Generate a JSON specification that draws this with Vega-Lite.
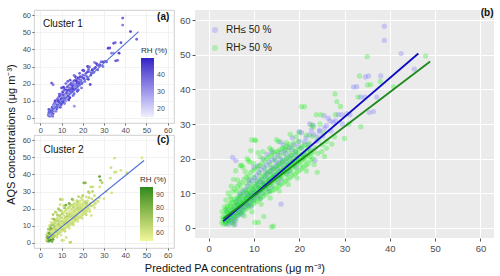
{
"$schema": "https://vega.github.io/schema/vega-lite/v6.json",
"background": "white",
"padding": {"left": 5, "right": 7, "top": 7, "bottom": 2},
"config": {"font": "Liberation Sans", "view": {"stroke": null}, "axis": {"labelOverlap": false, "labelBound": false, "labelFlush": false}},
"title": {"text": "Predicted PA concentrations (μg m⁻³)", "orient": "bottom", "anchor": "middle", "fontSize": 11, "fontWeight": "normal", "color": "#111", "offset": 4, "dx": -15},
"resolve": {"scale": {"color": "independent", "x": "independent", "y": "independent"}, "legend": {"color": "independent"}},
"datasets": {
"pts": [
{"pa":3.8,"aqs":1.2,"rh":32,"cl":1},{"pa":4.2,"aqs":2.5,"rh":28,"cl":1},{"pa":4.5,"aqs":1.0,"rh":40,"cl":1},{"pa":4.6,"aqs":3.8,"rh":35,"cl":1},{"pa":4.9,"aqs":2.2,"rh":44,"cl":1},{"pa":5.1,"aqs":5.0,"rh":30,"cl":1},{"pa":5.3,"aqs":1.5,"rh":22,"cl":1},{"pa":5.5,"aqs":3.3,"rh":38,"cl":1},{"pa":5.6,"aqs":6.2,"rh":41,"cl":1},{"pa":5.8,"aqs":4.4,"rh":26,"cl":1},
{"pa":6.0,"aqs":2.6,"rh":45,"cl":1},{"pa":6.1,"aqs":7.5,"rh":33,"cl":1},{"pa":6.3,"aqs":5.2,"rh":47,"cl":1},{"pa":6.5,"aqs":3.5,"rh":20,"cl":1},{"pa":6.6,"aqs":8.4,"rh":36,"cl":1},{"pa":6.8,"aqs":6.0,"rh":29,"cl":1},{"pa":7.0,"aqs":4.3,"rh":42,"cl":1},{"pa":7.1,"aqs":9.2,"rh":38,"cl":1},{"pa":7.3,"aqs":7.0,"rh":24,"cl":1},{"pa":7.5,"aqs":5.0,"rh":46,"cl":1},
{"pa":7.6,"aqs":10.4,"rh":31,"cl":1},{"pa":7.8,"aqs":7.8,"rh":43,"cl":1},{"pa":8.0,"aqs":5.8,"rh":35,"cl":1},{"pa":8.1,"aqs":11.0,"rh":40,"cl":1},{"pa":8.3,"aqs":8.6,"rh":27,"cl":1},{"pa":8.5,"aqs":6.6,"rh":48,"cl":1},{"pa":8.6,"aqs":12.0,"rh":34,"cl":1},{"pa":8.8,"aqs":9.4,"rh":39,"cl":1},{"pa":9.0,"aqs":7.2,"rh":30,"cl":1},{"pa":9.1,"aqs":12.9,"rh":44,"cl":1},
{"pa":9.3,"aqs":10.2,"rh":37,"cl":1},{"pa":9.5,"aqs":8.0,"rh":23,"cl":1},{"pa":9.6,"aqs":13.6,"rh":41,"cl":1},{"pa":9.8,"aqs":11.0,"rh":46,"cl":1},{"pa":10.0,"aqs":8.7,"rh":33,"cl":1},{"pa":10.1,"aqs":14.4,"rh":28,"cl":1},{"pa":10.3,"aqs":11.8,"rh":42,"cl":1},{"pa":10.5,"aqs":9.5,"rh":38,"cl":1},{"pa":10.6,"aqs":15.2,"rh":45,"cl":1},{"pa":10.8,"aqs":12.5,"rh":31,"cl":1},
{"pa":11.0,"aqs":10.2,"rh":40,"cl":1},{"pa":11.1,"aqs":16.0,"rh":36,"cl":1},{"pa":11.3,"aqs":13.3,"rh":47,"cl":1},{"pa":11.5,"aqs":10.9,"rh":26,"cl":1},{"pa":11.6,"aqs":16.8,"rh":43,"cl":1},{"pa":11.8,"aqs":14.0,"rh":34,"cl":1},{"pa":12.0,"aqs":11.6,"rh":39,"cl":1},{"pa":12.2,"aqs":17.5,"rh":30,"cl":1},{"pa":12.4,"aqs":14.8,"rh":44,"cl":1},{"pa":12.6,"aqs":12.3,"rh":37,"cl":1},
{"pa":12.8,"aqs":18.2,"rh":41,"cl":1},{"pa":13.0,"aqs":15.6,"rh":29,"cl":1},{"pa":13.2,"aqs":13.0,"rh":46,"cl":1},{"pa":13.4,"aqs":19.0,"rh":35,"cl":1},{"pa":13.6,"aqs":16.3,"rh":42,"cl":1},{"pa":13.8,"aqs":13.8,"rh":24,"cl":1},{"pa":14.0,"aqs":19.6,"rh":38,"cl":1},{"pa":14.2,"aqs":17.0,"rh":45,"cl":1},{"pa":14.4,"aqs":14.6,"rh":32,"cl":1},{"pa":14.6,"aqs":20.2,"rh":40,"cl":1},
{"pa":14.8,"aqs":17.8,"rh":36,"cl":1},{"pa":15.0,"aqs":15.4,"rh":43,"cl":1},{"pa":15.3,"aqs":21.0,"rh":31,"cl":1},{"pa":15.5,"aqs":18.6,"rh":47,"cl":1},{"pa":15.8,"aqs":16.2,"rh":38,"cl":1},{"pa":16.0,"aqs":21.8,"rh":42,"cl":1},{"pa":16.3,"aqs":19.4,"rh":27,"cl":1},{"pa":16.6,"aqs":17.0,"rh":44,"cl":1},{"pa":16.9,"aqs":22.5,"rh":37,"cl":1},{"pa":17.2,"aqs":20.2,"rh":40,"cl":1},
{"pa":17.5,"aqs":18.0,"rh":33,"cl":1},{"pa":17.8,"aqs":23.3,"rh":46,"cl":1},{"pa":18.1,"aqs":21.0,"rh":39,"cl":1},{"pa":18.5,"aqs":19.0,"rh":30,"cl":1},{"pa":18.8,"aqs":24.0,"rh":43,"cl":1},{"pa":19.2,"aqs":22.0,"rh":35,"cl":1},{"pa":19.6,"aqs":20.0,"rh":41,"cl":1},{"pa":20.0,"aqs":25.0,"rh":38,"cl":1},{"pa":20.5,"aqs":23.0,"rh":45,"cl":1},{"pa":21.0,"aqs":21.2,"rh":34,"cl":1},
{"pa":21.5,"aqs":26.0,"rh":40,"cl":1},{"pa":22.0,"aqs":24.0,"rh":37,"cl":1},{"pa":22.6,"aqs":22.5,"rh":44,"cl":1},{"pa":23.2,"aqs":27.0,"rh":32,"cl":1},{"pa":23.8,"aqs":25.0,"rh":42,"cl":1},{"pa":24.5,"aqs":28.2,"rh":39,"cl":1},{"pa":25.2,"aqs":26.5,"rh":36,"cl":1},{"pa":26.0,"aqs":29.5,"rh":43,"cl":1},{"pa":27.0,"aqs":28.0,"rh":38,"cl":1},{"pa":28.0,"aqs":31.0,"rh":41,"cl":1},
{"pa":5.0,"aqs":3.0,"rh":39,"cl":1},{"pa":6.2,"aqs":4.0,"rh":34,"cl":1},{"pa":7.2,"aqs":5.8,"rh":41,"cl":1},{"pa":8.2,"aqs":7.0,"rh":36,"cl":1},{"pa":9.2,"aqs":8.8,"rh":44,"cl":1},{"pa":10.2,"aqs":10.0,"rh":30,"cl":1},{"pa":11.2,"aqs":11.5,"rh":38,"cl":1},{"pa":12.2,"aqs":12.8,"rh":42,"cl":1},{"pa":13.2,"aqs":14.2,"rh":35,"cl":1},{"pa":14.2,"aqs":15.5,"rh":40,"cl":1},
{"pa":15.2,"aqs":17.0,"rh":45,"cl":1},{"pa":16.2,"aqs":18.2,"rh":33,"cl":1},{"pa":17.2,"aqs":19.0,"rh":39,"cl":1},{"pa":18.2,"aqs":20.0,"rh":43,"cl":1},{"pa":19.2,"aqs":21.0,"rh":37,"cl":1},{"pa":6.8,"aqs":4.8,"rh":26,"cl":1},{"pa":8.8,"aqs":6.5,"rh":31,"cl":1},{"pa":10.8,"aqs":9.0,"rh":47,"cl":1},{"pa":12.8,"aqs":11.2,"rh":29,"cl":1},{"pa":4.0,"aqs":3.2,"rh":42,"cl":1},
{"pa":5.6,"aqs":2.0,"rh":37,"cl":1},{"pa":7.4,"aqs":3.8,"rh":33,"cl":1},{"pa":9.4,"aqs":6.2,"rh":40,"cl":1},{"pa":11.4,"aqs":8.4,"rh":35,"cl":1},{"pa":13.4,"aqs":10.5,"rh":44,"cl":1},{"pa":15.4,"aqs":13.0,"rh":38,"cl":1},{"pa":17.4,"aqs":15.5,"rh":42,"cl":1},{"pa":19.4,"aqs":17.5,"rh":36,"cl":1},{"pa":14.0,"aqs":22.0,"rh":41,"cl":1},{"pa":16.5,"aqs":24.0,"rh":45,"cl":1},
{"pa":18.5,"aqs":26.0,"rh":39,"cl":1},{"pa":20.5,"aqs":27.5,"rh":43,"cl":1},{"pa":12.0,"aqs":20.0,"rh":37,"cl":1},{"pa":10.0,"aqs":17.5,"rh":42,"cl":1},
{"pa":4.4,"aqs":3.0,"rh":36,"cl":1},{"pa":5.2,"aqs":4.1,"rh":43,"cl":1},{"pa":6.4,"aqs":6.8,"rh":31,"cl":1},{"pa":7.6,"aqs":6.2,"rh":39,"cl":1},{"pa":8.4,"aqs":9.8,"rh":45,"cl":1},{"pa":9.7,"aqs":9.4,"rh":34,"cl":1},{"pa":10.6,"aqs":13.6,"rh":40,"cl":1},{"pa":11.9,"aqs":12.9,"rh":28,"cl":1},{"pa":12.6,"aqs":16.1,"rh":44,"cl":1},{"pa":13.8,"aqs":17.4,"rh":37,"cl":1},
{"pa":14.9,"aqs":19.1,"rh":42,"cl":1},{"pa":15.9,"aqs":19.9,"rh":35,"cl":1},{"pa":17.0,"aqs":21.5,"rh":47,"cl":1},{"pa":18.3,"aqs":22.6,"rh":38,"cl":1},{"pa":19.8,"aqs":23.6,"rh":41,"cl":1},{"pa":21.2,"aqs":24.8,"rh":36,"cl":1},{"pa":22.3,"aqs":26.9,"rh":44,"cl":1},{"pa":24.0,"aqs":26.3,"rh":39,"cl":1},{"pa":25.6,"aqs":28.9,"rh":42,"cl":1},{"pa":26.8,"aqs":30.9,"rh":37,"cl":1},
{"pa":6.9,"aqs":9.9,"rh":43,"cl":1},{"pa":8.9,"aqs":13.9,"rh":38,"cl":1},{"pa":10.9,"aqs":17.9,"rh":45,"cl":1},{"pa":12.9,"aqs":21.3,"rh":40,"cl":1},{"pa":15.9,"aqs":24.8,"rh":36,"cl":1},{"pa":9.9,"aqs":7.8,"rh":42,"cl":1},{"pa":11.9,"aqs":9.9,"rh":33,"cl":1},{"pa":13.9,"aqs":11.8,"rh":46,"cl":1},{"pa":15.9,"aqs":14.1,"rh":39,"cl":1},{"pa":17.9,"aqs":16.3,"rh":41,"cl":1},
{"pa":38.8,"aqs":58.3,"rh":40,"cl":1},{"pa":38.8,"aqs":54.2,"rh":35,"cl":1},{"pa":42.5,"aqs":50.4,"rh":44,"cl":1},{"pa":45.4,"aqs":45.9,"rh":38,"cl":1},{"pa":34.6,"aqs":43.6,"rh":42,"cl":1},{"pa":32.0,"aqs":40.7,"rh":46,"cl":1},{"pa":33.6,"aqs":37.8,"rh":36,"cl":1},{"pa":35.5,"aqs":33.3,"rh":41,"cl":1},{"pa":30.5,"aqs":33.0,"rh":38,"cl":1},{"pa":25.5,"aqs":32.4,"rh":33,"cl":1},
{"pa":22.3,"aqs":30.0,"rh":45,"cl":1},{"pa":5.3,"aqs":20.3,"rh":40,"cl":1},{"pa":6.0,"aqs":19.4,"rh":36,"cl":1},{"pa":16.0,"aqs":6.8,"rh":30,"cl":1},{"pa":20.0,"aqs":27.8,"rh":42,"cl":1},{"pa":23.1,"aqs":29.7,"rh":39,"cl":1},{"pa":26.4,"aqs":31.7,"rh":44,"cl":1},{"pa":31.2,"aqs":32.7,"rh":37,"cl":1},{"pa":36.4,"aqs":33.6,"rh":40,"cl":1},{"pa":37.1,"aqs":37.8,"rh":45,"cl":1},
{"pa":34.5,"aqs":37.8,"rh":32,"cl":1},{"pa":32.7,"aqs":40.8,"rh":42,"cl":1},{"pa":35.3,"aqs":43.9,"rh":38,"cl":1},{"pa":38.0,"aqs":43.9,"rh":41,"cl":1},{"pa":28.6,"aqs":32.7,"rh":35,"cl":1},{"pa":29.4,"aqs":32.7,"rh":43,"cl":1},{"pa":23.5,"aqs":19.5,"rh":42,"cl":1},{"pa":22.7,"aqs":28.3,"rh":38,"cl":1},{"pa":24.5,"aqs":27.8,"rh":44,"cl":1},{"pa":4.3,"aqs":2.0,"rh":30,"cl":1},
{"pa":5.8,"aqs":0.9,"rh":36,"cl":1},{"pa":4.0,"aqs":4.9,"rh":41,"cl":1},{"pa":27.5,"aqs":30.5,"rh":40,"cl":1},{"pa":29.5,"aqs":30.0,"rh":36,"cl":1},
{"pa":2.9,"aqs":1.5,"rh":62,"cl":2},{"pa":3.1,"aqs":3.0,"rh":80,"cl":2},{"pa":3.0,"aqs":4.6,"rh":66,"cl":2},{"pa":3.4,"aqs":2.0,"rh":58,"cl":2},{"pa":3.6,"aqs":3.8,"rh":88,"cl":2},{"pa":3.5,"aqs":6.0,"rh":64,"cl":2},{"pa":3.3,"aqs":1.0,"rh":71,"cl":2},
{"pa":3.9,"aqs":1.6,"rh":60,"cl":2},{"pa":4.1,"aqs":3.1,"rh":84,"cl":2},{"pa":4.0,"aqs":4.4,"rh":68,"cl":2},{"pa":4.2,"aqs":6.4,"rh":59,"cl":2},{"pa":3.8,"aqs":8.0,"rh":73,"cl":2},
{"pa":4.4,"aqs":2.1,"rh":66,"cl":2},{"pa":4.6,"aqs":3.4,"rh":90,"cl":2},{"pa":4.5,"aqs":5.1,"rh":62,"cl":2},{"pa":4.7,"aqs":7.0,"rh":70,"cl":2},{"pa":4.3,"aqs":10.0,"rh":61,"cl":2},
{"pa":5.0,"aqs":2.5,"rh":63,"cl":2},{"pa":4.9,"aqs":4.1,"rh":78,"cl":2},{"pa":5.1,"aqs":5.6,"rh":60,"cl":2},{"pa":5.2,"aqs":7.4,"rh":67,"cl":2},{"pa":4.8,"aqs":9.0,"rh":75,"cl":2},{"pa":5.0,"aqs":12.0,"rh":58,"cl":2},
{"pa":5.5,"aqs":3.0,"rh":69,"cl":2},{"pa":5.4,"aqs":4.6,"rh":86,"cl":2},{"pa":5.6,"aqs":6.1,"rh":62,"cl":2},{"pa":5.7,"aqs":8.1,"rh":65,"cl":2},{"pa":5.3,"aqs":10.5,"rh":72,"cl":2},{"pa":5.5,"aqs":14.0,"rh":60,"cl":2},
{"pa":6.0,"aqs":3.2,"rh":64,"cl":2},{"pa":5.9,"aqs":5.0,"rh":76,"cl":2},{"pa":6.1,"aqs":6.6,"rh":61,"cl":2},{"pa":6.2,"aqs":8.6,"rh":68,"cl":2},{"pa":5.8,"aqs":11.2,"rh":63,"cl":2},{"pa":6.0,"aqs":16.5,"rh":70,"cl":2},
{"pa":6.5,"aqs":3.6,"rh":67,"cl":2},{"pa":6.4,"aqs":5.5,"rh":82,"cl":2},{"pa":6.6,"aqs":7.1,"rh":59,"cl":2},{"pa":6.7,"aqs":9.0,"rh":66,"cl":2},{"pa":6.3,"aqs":12.0,"rh":62,"cl":2},
{"pa":7.0,"aqs":4.1,"rh":70,"cl":2},{"pa":6.9,"aqs":6.0,"rh":61,"cl":2},{"pa":7.1,"aqs":7.6,"rh":64,"cl":2},{"pa":7.2,"aqs":9.6,"rh":73,"cl":2},{"pa":6.8,"aqs":12.6,"rh":60,"cl":2},{"pa":7.0,"aqs":18.0,"rh":68,"cl":2},
{"pa":7.5,"aqs":4.5,"rh":62,"cl":2},{"pa":7.4,"aqs":6.5,"rh":77,"cl":2},{"pa":7.6,"aqs":8.1,"rh":63,"cl":2},{"pa":7.7,"aqs":10.1,"rh":58,"cl":2},{"pa":7.3,"aqs":13.0,"rh":66,"cl":2},
{"pa":8.0,"aqs":5.0,"rh":65,"cl":2},{"pa":7.9,"aqs":7.0,"rh":60,"cl":2},{"pa":8.1,"aqs":8.6,"rh":71,"cl":2},{"pa":8.2,"aqs":10.6,"rh":64,"cl":2},{"pa":7.8,"aqs":14.0,"rh":62,"cl":2},
{"pa":8.5,"aqs":5.6,"rh":68,"cl":2},{"pa":8.4,"aqs":7.5,"rh":63,"cl":2},{"pa":8.6,"aqs":9.1,"rh":59,"cl":2},{"pa":8.7,"aqs":11.0,"rh":70,"cl":2},{"pa":8.3,"aqs":14.6,"rh":61,"cl":2},{"pa":8.5,"aqs":20.0,"rh":65,"cl":2},
{"pa":9.0,"aqs":6.0,"rh":61,"cl":2},{"pa":8.9,"aqs":8.0,"rh":74,"cl":2},{"pa":9.1,"aqs":9.6,"rh":62,"cl":2},{"pa":9.2,"aqs":11.6,"rh":66,"cl":2},{"pa":8.8,"aqs":15.0,"rh":60,"cl":2},
{"pa":9.5,"aqs":6.5,"rh":64,"cl":2},{"pa":9.4,"aqs":8.6,"rh":59,"cl":2},{"pa":9.6,"aqs":10.1,"rh":67,"cl":2},{"pa":9.7,"aqs":12.1,"rh":63,"cl":2},{"pa":9.3,"aqs":16.0,"rh":69,"cl":2},{"pa":9.5,"aqs":25.4,"rh":72,"cl":2},
{"pa":10.0,"aqs":7.0,"rh":60,"cl":2},{"pa":9.9,"aqs":9.0,"rh":66,"cl":2},{"pa":10.1,"aqs":10.6,"rh":62,"cl":2},{"pa":10.2,"aqs":12.6,"rh":71,"cl":2},{"pa":9.8,"aqs":16.5,"rh":61,"cl":2},{"pa":10.2,"aqs":1.5,"rh":64,"cl":2},
{"pa":10.5,"aqs":7.5,"rh":63,"cl":2},{"pa":10.4,"aqs":9.5,"rh":58,"cl":2},{"pa":10.6,"aqs":11.1,"rh":65,"cl":2},{"pa":10.7,"aqs":13.1,"rh":60,"cl":2},{"pa":10.3,"aqs":17.0,"rh":68,"cl":2},{"pa":10.4,"aqs":25.2,"rh":62,"cl":2},
{"pa":11.0,"aqs":8.0,"rh":67,"cl":2},{"pa":10.9,"aqs":10.0,"rh":61,"cl":2},{"pa":11.1,"aqs":11.6,"rh":64,"cl":2},{"pa":11.2,"aqs":14.0,"rh":59,"cl":2},{"pa":10.8,"aqs":17.5,"rh":66,"cl":2},{"pa":11.0,"aqs":1.5,"rh":60,"cl":2},
{"pa":11.5,"aqs":8.5,"rh":62,"cl":2},{"pa":11.4,"aqs":10.6,"rh":69,"cl":2},{"pa":11.6,"aqs":12.1,"rh":60,"cl":2},{"pa":11.7,"aqs":14.6,"rh":64,"cl":2},{"pa":11.3,"aqs":18.0,"rh":58,"cl":2},
{"pa":12.0,"aqs":9.0,"rh":65,"cl":2},{"pa":11.9,"aqs":11.0,"rh":60,"cl":2},{"pa":12.1,"aqs":12.6,"rh":63,"cl":2},{"pa":12.2,"aqs":15.0,"rh":67,"cl":2},{"pa":11.8,"aqs":18.6,"rh":61,"cl":2},
{"pa":12.5,"aqs":9.5,"rh":59,"cl":2},{"pa":12.4,"aqs":11.5,"rh":64,"cl":2},{"pa":12.6,"aqs":13.1,"rh":61,"cl":2},{"pa":12.7,"aqs":15.5,"rh":70,"cl":2},{"pa":12.3,"aqs":19.5,"rh":63,"cl":2},
{"pa":13.0,"aqs":10.0,"rh":66,"cl":2},{"pa":12.9,"aqs":12.0,"rh":60,"cl":2},{"pa":13.1,"aqs":13.6,"rh":62,"cl":2},{"pa":13.2,"aqs":16.0,"rh":65,"cl":2},{"pa":12.8,"aqs":20.0,"rh":60,"cl":2},
{"pa":13.5,"aqs":10.5,"rh":61,"cl":2},{"pa":13.4,"aqs":12.5,"rh":67,"cl":2},{"pa":13.6,"aqs":14.1,"rh":59,"cl":2},{"pa":13.7,"aqs":16.6,"rh":63,"cl":2},{"pa":13.3,"aqs":20.5,"rh":66,"cl":2},
{"pa":14.0,"aqs":10.6,"rh":64,"cl":2},{"pa":13.9,"aqs":13.0,"rh":60,"cl":2},{"pa":14.1,"aqs":14.6,"rh":62,"cl":2},{"pa":14.2,"aqs":17.0,"rh":68,"cl":2},{"pa":13.8,"aqs":21.0,"rh":61,"cl":2},{"pa":13.9,"aqs":0.2,"rh":63,"cl":2},
{"pa":14.5,"aqs":11.0,"rh":60,"cl":2},{"pa":14.4,"aqs":13.5,"rh":65,"cl":2},{"pa":14.6,"aqs":15.1,"rh":61,"cl":2},{"pa":14.7,"aqs":17.5,"rh":59,"cl":2},{"pa":14.3,"aqs":21.5,"rh":64,"cl":2},{"pa":14.3,"aqs":0.4,"rh":66,"cl":2},
{"pa":15.0,"aqs":11.5,"rh":63,"cl":2},{"pa":14.9,"aqs":14.0,"rh":58,"cl":2},{"pa":15.1,"aqs":15.6,"rh":66,"cl":2},{"pa":15.2,"aqs":18.0,"rh":62,"cl":2},{"pa":14.8,"aqs":22.0,"rh":60,"cl":2},
{"pa":15.5,"aqs":12.0,"rh":67,"cl":2},{"pa":15.4,"aqs":14.5,"rh":61,"cl":2},{"pa":15.6,"aqs":16.1,"rh":63,"cl":2},{"pa":15.7,"aqs":18.5,"rh":60,"cl":2},{"pa":15.3,"aqs":22.0,"rh":65,"cl":2},
{"pa":16.0,"aqs":12.5,"rh":59,"cl":2},{"pa":15.9,"aqs":15.0,"rh":64,"cl":2},{"pa":16.1,"aqs":16.6,"rh":60,"cl":2},{"pa":16.2,"aqs":19.0,"rh":66,"cl":2},{"pa":15.8,"aqs":22.6,"rh":62,"cl":2},
{"pa":16.5,"aqs":13.0,"rh":62,"cl":2},{"pa":16.4,"aqs":15.5,"rh":60,"cl":2},{"pa":16.6,"aqs":17.1,"rh":65,"cl":2},{"pa":16.7,"aqs":19.5,"rh":61,"cl":2},{"pa":16.3,"aqs":23.0,"rh":63,"cl":2},
{"pa":17.0,"aqs":13.5,"rh":66,"cl":2},{"pa":16.9,"aqs":16.0,"rh":61,"cl":2},{"pa":17.1,"aqs":17.6,"rh":59,"cl":2},{"pa":17.2,"aqs":20.0,"rh":64,"cl":2},{"pa":16.8,"aqs":23.0,"rh":60,"cl":2},
{"pa":17.5,"aqs":14.0,"rh":60,"cl":2},{"pa":17.4,"aqs":16.5,"rh":63,"cl":2},{"pa":17.6,"aqs":18.1,"rh":62,"cl":2},{"pa":17.7,"aqs":20.5,"rh":67,"cl":2},{"pa":17.3,"aqs":23.5,"rh":61,"cl":2},
{"pa":18.0,"aqs":14.5,"rh":64,"cl":2},{"pa":17.9,"aqs":17.0,"rh":59,"cl":2},{"pa":18.1,"aqs":18.6,"rh":61,"cl":2},{"pa":18.2,"aqs":21.0,"rh":63,"cl":2},{"pa":17.8,"aqs":24.0,"rh":66,"cl":2},
{"pa":18.5,"aqs":15.0,"rh":61,"cl":2},{"pa":18.4,"aqs":17.5,"rh":65,"cl":2},{"pa":18.6,"aqs":19.1,"rh":60,"cl":2},{"pa":18.7,"aqs":21.5,"rh":62,"cl":2},
{"pa":19.0,"aqs":15.5,"rh":63,"cl":2},{"pa":18.9,"aqs":18.0,"rh":60,"cl":2},{"pa":19.1,"aqs":19.6,"rh":64,"cl":2},{"pa":19.2,"aqs":22.0,"rh":61,"cl":2},{"pa":18.8,"aqs":24.5,"rh":59,"cl":2},
{"pa":19.5,"aqs":16.0,"rh":60,"cl":2},{"pa":19.4,"aqs":18.5,"rh":62,"cl":2},{"pa":19.6,"aqs":20.1,"rh":66,"cl":2},{"pa":19.7,"aqs":22.5,"rh":60,"cl":2},
{"pa":20.0,"aqs":16.5,"rh":64,"cl":2},{"pa":19.9,"aqs":19.0,"rh":61,"cl":2},{"pa":20.1,"aqs":20.6,"rh":59,"cl":2},{"pa":20.2,"aqs":23.0,"rh":63,"cl":2},{"pa":19.8,"aqs":25.0,"rh":62,"cl":2},
{"pa":20.5,"aqs":17.0,"rh":61,"cl":2},{"pa":20.4,"aqs":19.5,"rh":65,"cl":2},{"pa":20.6,"aqs":21.1,"rh":60,"cl":2},{"pa":20.7,"aqs":23.5,"rh":62,"cl":2},
{"pa":21.0,"aqs":17.5,"rh":63,"cl":2},{"pa":20.9,"aqs":20.0,"rh":60,"cl":2},{"pa":21.1,"aqs":21.6,"rh":62,"cl":2},{"pa":21.2,"aqs":24.0,"rh":66,"cl":2},
{"pa":21.5,"aqs":18.0,"rh":60,"cl":2},{"pa":21.4,"aqs":20.5,"rh":63,"cl":2},{"pa":21.6,"aqs":22.1,"rh":61,"cl":2},
{"pa":22.0,"aqs":18.5,"rh":62,"cl":2},{"pa":21.9,"aqs":21.0,"rh":60,"cl":2},{"pa":22.1,"aqs":22.6,"rh":64,"cl":2},{"pa":22.2,"aqs":24.5,"rh":61,"cl":2},
{"pa":22.5,"aqs":19.5,"rh":60,"cl":2},{"pa":22.6,"aqs":21.5,"rh":63,"cl":2},{"pa":23.0,"aqs":20.0,"rh":61,"cl":2},{"pa":23.1,"aqs":22.0,"rh":62,"cl":2},{"pa":24.0,"aqs":16.0,"rh":60,"cl":2},{"pa":24.1,"aqs":21.5,"rh":64,"cl":2},{"pa":25.0,"aqs":22.0,"rh":62,"cl":2},{"pa":25.1,"aqs":24.0,"rh":60,"cl":2},{"pa":26.0,"aqs":23.0,"rh":63,"cl":2},{"pa":26.1,"aqs":25.0,"rh":61,"cl":2},
{"pa":3.3,"aqs":2.7,"rh":74,"cl":2},{"pa":3.7,"aqs":5.2,"rh":63,"cl":2},{"pa":4.1,"aqs":1.9,"rh":81,"cl":2},{"pa":4.4,"aqs":4.2,"rh":66,"cl":2},{"pa":4.8,"aqs":6.3,"rh":60,"cl":2},{"pa":5.2,"aqs":3.6,"rh":72,"cl":2},{"pa":5.6,"aqs":5.3,"rh":64,"cl":2},{"pa":5.9,"aqs":7.3,"rh":61,"cl":2},{"pa":6.3,"aqs":4.4,"rh":69,"cl":2},{"pa":6.6,"aqs":6.3,"rh":62,"cl":2},
{"pa":6.9,"aqs":8.2,"rh":65,"cl":2},{"pa":7.2,"aqs":5.3,"rh":60,"cl":2},{"pa":7.5,"aqs":7.2,"rh":67,"cl":2},{"pa":7.8,"aqs":9.1,"rh":61,"cl":2},{"pa":8.2,"aqs":6.2,"rh":63,"cl":2},{"pa":8.4,"aqs":8.3,"rh":59,"cl":2},{"pa":8.8,"aqs":10.2,"rh":66,"cl":2},{"pa":9.2,"aqs":7.3,"rh":62,"cl":2},{"pa":9.4,"aqs":9.2,"rh":64,"cl":2},{"pa":9.8,"aqs":11.3,"rh":60,"cl":2},
{"pa":10.1,"aqs":8.2,"rh":65,"cl":2},{"pa":10.4,"aqs":10.3,"rh":61,"cl":2},{"pa":10.8,"aqs":12.2,"rh":63,"cl":2},{"pa":11.1,"aqs":9.3,"rh":59,"cl":2},{"pa":11.4,"aqs":11.3,"rh":66,"cl":2},{"pa":11.8,"aqs":13.3,"rh":62,"cl":2},{"pa":12.1,"aqs":10.2,"rh":60,"cl":2},{"pa":12.4,"aqs":12.3,"rh":64,"cl":2},{"pa":12.8,"aqs":14.2,"rh":61,"cl":2},{"pa":13.1,"aqs":11.3,"rh":63,"cl":2},
{"pa":13.4,"aqs":13.3,"rh":60,"cl":2},{"pa":13.8,"aqs":15.2,"rh":65,"cl":2},{"pa":14.1,"aqs":12.2,"rh":62,"cl":2},{"pa":14.4,"aqs":14.3,"rh":59,"cl":2},{"pa":14.8,"aqs":16.3,"rh":64,"cl":2},{"pa":15.1,"aqs":13.2,"rh":61,"cl":2},{"pa":15.4,"aqs":15.3,"rh":63,"cl":2},{"pa":15.8,"aqs":17.3,"rh":60,"cl":2},{"pa":16.1,"aqs":14.2,"rh":66,"cl":2},{"pa":16.4,"aqs":16.3,"rh":62,"cl":2},
{"pa":16.8,"aqs":18.2,"rh":60,"cl":2},{"pa":17.1,"aqs":15.3,"rh":64,"cl":2},{"pa":17.4,"aqs":17.3,"rh":61,"cl":2},{"pa":17.8,"aqs":19.3,"rh":63,"cl":2},{"pa":18.1,"aqs":16.2,"rh":59,"cl":2},{"pa":18.4,"aqs":18.3,"rh":62,"cl":2},{"pa":18.8,"aqs":20.2,"rh":65,"cl":2},{"pa":19.1,"aqs":17.3,"rh":60,"cl":2},{"pa":19.4,"aqs":19.3,"rh":63,"cl":2},{"pa":19.8,"aqs":21.3,"rh":61,"cl":2},
{"pa":20.3,"aqs":18.2,"rh":64,"cl":2},{"pa":20.8,"aqs":20.3,"rh":60,"cl":2},{"pa":21.3,"aqs":19.3,"rh":62,"cl":2},{"pa":21.8,"aqs":23.2,"rh":66,"cl":2},{"pa":22.4,"aqs":20.6,"rh":61,"cl":2},{"pa":23.5,"aqs":23.1,"rh":63,"cl":2},{"pa":6.2,"aqs":10.4,"rh":71,"cl":2},{"pa":7.1,"aqs":11.4,"rh":64,"cl":2},{"pa":8.3,"aqs":12.7,"rh":68,"cl":2},{"pa":9.0,"aqs":13.6,"rh":62,"cl":2},
{"pa":10.0,"aqs":14.6,"rh":66,"cl":2},{"pa":11.3,"aqs":15.8,"rh":61,"cl":2},{"pa":12.5,"aqs":17.1,"rh":65,"cl":2},{"pa":13.6,"aqs":18.3,"rh":60,"cl":2},{"pa":14.6,"aqs":19.6,"rh":63,"cl":2},{"pa":15.6,"aqs":20.6,"rh":67,"cl":2},{"pa":16.6,"aqs":21.4,"rh":61,"cl":2},{"pa":17.6,"aqs":22.3,"rh":64,"cl":2},{"pa":18.6,"aqs":23.1,"rh":60,"cl":2},{"pa":5.0,"aqs":8.2,"rh":79,"cl":2},
{"pa":4.1,"aqs":5.6,"rh":83,"cl":2},{"pa":7.9,"aqs":3.4,"rh":62,"cl":2},{"pa":9.6,"aqs":4.6,"rh":60,"cl":2},{"pa":11.6,"aqs":6.8,"rh":64,"cl":2},{"pa":13.6,"aqs":8.6,"rh":61,"cl":2},{"pa":15.6,"aqs":10.6,"rh":63,"cl":2},{"pa":17.6,"aqs":12.5,"rh":60,"cl":2},{"pa":19.6,"aqs":14.4,"rh":62,"cl":2},{"pa":21.6,"aqs":16.4,"rh":65,"cl":2},{"pa":12.2,"aqs":3.2,"rh":61,"cl":2},
{"pa":6.4,"aqs":13.8,"rh":74,"cl":2},{"pa":8.1,"aqs":16.2,"rh":69,"cl":2},{"pa":9.9,"aqs":18.6,"rh":66,"cl":2},{"pa":11.4,"aqs":20.4,"rh":72,"cl":2},{"pa":10.9,"aqs":21.7,"rh":63,"cl":2},{"pa":9.3,"aqs":22.3,"rh":61,"cl":2},{"pa":13.9,"aqs":22.6,"rh":70,"cl":2},{"pa":17.2,"aqs":24.6,"rh":64,"cl":2},{"pa":19.3,"aqs":26.3,"rh":62,"cl":2},{"pa":21.6,"aqs":26.8,"rh":60,"cl":2},
{"pa":24.3,"aqs":25.6,"rh":63,"cl":2},{"pa":23.3,"aqs":18.3,"rh":61,"cl":2},{"pa":25.6,"aqs":20.6,"rh":60,"cl":2},{"pa":22.9,"aqs":26.4,"rh":65,"cl":2},{"pa":27.2,"aqs":24.2,"rh":62,"cl":2},
{"pa":47.9,"aqs":49.7,"rh":60,"cl":2},{"pa":35.0,"aqs":49.5,"rh":62,"cl":2},{"pa":35.1,"aqs":41.3,"rh":65,"cl":2},{"pa":37.9,"aqs":42.3,"rh":60,"cl":2},{"pa":33.3,"aqs":43.9,"rh":63,"cl":2},{"pa":27.9,"aqs":38.7,"rh":85,"cl":2},{"pa":28.3,"aqs":36.5,"rh":75,"cl":2},{"pa":29.1,"aqs":35.1,"rh":68,"cl":2},{"pa":33.0,"aqs":37.8,"rh":62,"cl":2},{"pa":35.8,"aqs":41.4,"rh":61,"cl":2},
{"pa":40.8,"aqs":40.8,"rh":63,"cl":2},{"pa":20.5,"aqs":35.0,"rh":80,"cl":2},{"pa":21.2,"aqs":35.0,"rh":78,"cl":2},{"pa":23.8,"aqs":32.7,"rh":64,"cl":2},{"pa":24.8,"aqs":32.7,"rh":62,"cl":2},{"pa":24.6,"aqs":30.0,"rh":66,"cl":2},{"pa":28.0,"aqs":32.7,"rh":60,"cl":2},{"pa":33.6,"aqs":29.2,"rh":61,"cl":2},{"pa":27.8,"aqs":26.3,"rh":62,"cl":2},{"pa":30.0,"aqs":25.8,"rh":60,"cl":2},
{"pa":22.7,"aqs":29.7,"rh":70,"cl":2},{"pa":23.1,"aqs":29.2,"rh":66,"cl":2},{"pa":15.4,"aqs":24.9,"rh":64,"cl":2},{"pa":10.2,"aqs":25.4,"rh":62,"cl":2},{"pa":8.8,"aqs":19.5,"rh":72,"cl":2},{"pa":9.1,"aqs":19.0,"rh":68,"cl":2},{"pa":7.3,"aqs":18.0,"rh":66,"cl":2},{"pa":7.6,"aqs":17.5,"rh":63,"cl":2},{"pa":12.0,"aqs":22.0,"rh":82,"cl":2},{"pa":13.5,"aqs":23.0,"rh":78,"cl":2},
{"pa":15.0,"aqs":25.5,"rh":75,"cl":2},{"pa":18.0,"aqs":27.0,"rh":66,"cl":2},{"pa":20.0,"aqs":27.5,"rh":68,"cl":2},{"pa":25.5,"aqs":27.5,"rh":63,"cl":2},{"pa":31.0,"aqs":30.0,"rh":60,"cl":2},{"pa":4.0,"aqs":1.0,"rh":88,"cl":2},{"pa":5.0,"aqs":1.5,"rh":92,"cl":2},{"pa":6.0,"aqs":2.0,"rh":85,"cl":2},{"pa":5.5,"aqs":0.8,"rh":80,"cl":2}
],
"fits": [
{"pa":3.2,"aqs":1.8,"cl":1},{"pa":46.3,"aqs":50.4,"cl":1},
{"pa":3.2,"aqs":2.5,"cl":2},{"pa":48.9,"aqs":48.1,"cl":2}
],
"tags": [
{"panel":"a","kind":"name","pa":1.2,"aqs":54.8,"label":"Cluster 1"},
{"panel":"a","kind":"tag","pa":60.8,"aqs":58.7,"label":"(a)"},
{"panel":"c","kind":"name","pa":1.5,"aqs":54.4,"label":"Cluster 2"},
{"panel":"c","kind":"tag","pa":60.8,"aqs":59.8,"label":"(c)"},
{"panel":"b","kind":"tag","pa":62.9,"aqs":62.2,"label":"(b)"}
]
},
"hconcat": [
{
"title": {"text": "AQS concentrations (μg m⁻³)", "orient": "left", "anchor": "middle", "fontSize": 11, "fontWeight": "normal", "color": "#111", "offset": 5},
"spacing": -4,
"resolve": {"scale": {"color": "independent", "x": "independent", "y": "independent"}, "legend": {"color": "independent"}},
"vconcat": [
{
"width": 140, "height": 113,
"view": {"stroke": "#c4c4c4", "strokeWidth": 0.8, "fill": "white"},
"encoding": {
"x": {"field": "pa", "type": "quantitative", "scale": {"domain": [-3, 63], "nice": false, "zero": false}, "axis": {"title": null, "tickCount": 7, "tickMinStep": 10, "labelOverlap": false, "gridColor": "#ececec", "gridWidth": 0.7, "domain": false, "tickSize": 2, "tickColor": "#666", "labelFontSize": 7.5, "labelColor": "#4d4d4d", "labelPadding": 1.5}},
"y": {"field": "aqs", "type": "quantitative", "scale": {"domain": [-3, 63], "nice": false, "zero": false}, "axis": {"title": null, "tickCount": 7, "tickMinStep": 10, "labelOverlap": false, "gridColor": "#ececec", "gridWidth": 0.7, "domain": false, "tickSize": 2, "tickColor": "#666", "labelFontSize": 7.5, "labelColor": "#4d4d4d", "labelPadding": 1.5}}
},
"layer": [
{"data": {"name": "pts"}, "transform": [{"filter": "datum.cl == 1"}],
"mark": {"type": "circle", "size": 8, "opacity": 1},
"encoding": {
"color": {"field": "rh", "type": "quantitative", "scale": {"domain": [15, 50], "range": ["#f0f0fc", "#3022c6"]}, "legend": {"title": "RH (%)", "orient": "bottom-right", "direction": "vertical", "offset": 6, "values": [20, 30, 40], "gradientLength": 59, "gradientThickness": 13, "gradientStrokeWidth": 0, "titleFontSize": 8, "titleFontWeight": "normal", "titleColor": "#333", "labelFontSize": 7, "labelColor": "#4d4d4d", "padding": 0, "titlePadding": 3, "labelOffset": 3}}
}},
{"data": {"name": "fits"}, "transform": [{"filter": "datum.cl == 1"}], "mark": {"type": "line", "color": "#4f6fd6", "strokeWidth": 1.1}},
{"data": {"name": "tags"}, "transform": [{"filter": "datum.panel == 'a' && datum.kind == 'name'"}], "mark": {"type": "text", "align": "left", "baseline": "middle", "fontSize": 10, "color": "#111"}, "encoding": {"text": {"field": "label"}}},
{"data": {"name": "tags"}, "transform": [{"filter": "datum.panel == 'a' && datum.kind == 'tag'"}], "mark": {"type": "text", "align": "right", "baseline": "middle", "fontSize": 10, "fontWeight": "bold", "color": "#111"}, "encoding": {"text": {"field": "label"}}}
]
},
{
"width": 140, "height": 113,
"view": {"stroke": "#c4c4c4", "strokeWidth": 0.8, "fill": "white"},
"encoding": {
"x": {"field": "pa", "type": "quantitative", "scale": {"domain": [-3, 63], "nice": false, "zero": false}, "axis": {"title": null, "tickCount": 7, "tickMinStep": 10, "labelOverlap": false, "gridColor": "#ececec", "gridWidth": 0.7, "domain": false, "tickSize": 2, "tickColor": "#666", "labelFontSize": 7.5, "labelColor": "#4d4d4d", "labelPadding": 1.5}},
"y": {"field": "aqs", "type": "quantitative", "scale": {"domain": [-3, 63], "nice": false, "zero": false}, "axis": {"title": null, "tickCount": 7, "tickMinStep": 10, "labelOverlap": false, "gridColor": "#ececec", "gridWidth": 0.7, "domain": false, "tickSize": 2, "tickColor": "#666", "labelFontSize": 7.5, "labelColor": "#4d4d4d", "labelPadding": 1.5}}
},
"layer": [
{"data": {"name": "pts"}, "transform": [{"filter": "datum.cl == 2"}],
"mark": {"type": "circle", "size": 8, "opacity": 1},
"encoding": {
"color": {"field": "rh", "type": "quantitative", "scale": {"domain": [54, 96], "range": ["#f1f79c", "#2a8a1c"]}, "legend": {"title": "RH (%)", "orient": "bottom-right", "direction": "vertical", "offset": 7, "values": [60, 70, 80, 90], "gradientLength": 54, "gradientThickness": 13, "gradientStrokeWidth": 0, "titleFontSize": 8, "titleFontWeight": "normal", "titleColor": "#333", "labelFontSize": 7, "labelColor": "#4d4d4d", "padding": 0, "titlePadding": 3, "labelOffset": 3}}
}},
{"data": {"name": "fits"}, "transform": [{"filter": "datum.cl == 2"}], "mark": {"type": "line", "color": "#4f6fd6", "strokeWidth": 1.1}},
{"data": {"name": "tags"}, "transform": [{"filter": "datum.panel == 'c' && datum.kind == 'name'"}], "mark": {"type": "text", "align": "left", "baseline": "middle", "fontSize": 10, "color": "#111"}, "encoding": {"text": {"field": "label"}}},
{"data": {"name": "tags"}, "transform": [{"filter": "datum.panel == 'c' && datum.kind == 'tag'"}], "mark": {"type": "text", "align": "right", "baseline": "middle", "fontSize": 10, "fontWeight": "bold", "color": "#111"}, "encoding": {"text": {"field": "label"}}}
]
}
]
},
{
"width": 299, "height": 228,
"view": {"fill": "#ebebeb", "stroke": null},
"encoding": {
"x": {"field": "pa", "type": "quantitative", "scale": {"domain": [-3, 63], "nice": false, "zero": false}, "axis": {"title": null, "tickCount": 7, "tickMinStep": 10, "labelOverlap": false, "gridColor": "white", "gridWidth": 1.1, "domain": false, "tickSize": 3, "tickColor": "#555", "labelFontSize": 9.5, "labelColor": "#4d4d4d", "labelPadding": 2}},
"y": {"field": "aqs", "type": "quantitative", "scale": {"domain": [-3, 63], "nice": false, "zero": false}, "axis": {"title": null, "tickCount": 7, "tickMinStep": 10, "labelOverlap": false, "gridColor": "white", "gridWidth": 1.1, "domain": false, "tickSize": 3, "tickColor": "#555", "labelFontSize": 9.5, "labelColor": "#4d4d4d", "labelPadding": 2}}
},
"layer": [
{"data": {"name": "pts"},
"mark": {"type": "circle", "size": 28, "opacity": 0.28},
"encoding": {
"color": {"field": "cl", "type": "nominal", "scale": {"domain": [1, 2], "range": ["#6464ff", "#00f000"]}, "legend": {"title": null, "orient": "top-left", "offset": 12, "labelExpr": "datum.value == 1 ? 'RH≤ 50 %' : 'RH> 50 %'", "symbolType": "circle", "symbolSize": 36, "symbolOpacity": 0.25, "symbolStrokeWidth": 0, "labelFontSize": 10, "labelColor": "#222", "rowPadding": 8, "padding": 3, "labelOffset": 6}}
}},
{"data": {"name": "fits"}, "transform": [{"filter": "datum.cl == 1"}], "mark": {"type": "line", "color": "#0c0cc4", "strokeWidth": 1.8}},
{"data": {"name": "fits"}, "transform": [{"filter": "datum.cl == 2"}], "mark": {"type": "line", "color": "#1d8a1d", "strokeWidth": 1.8}},
{"data": {"name": "tags"}, "transform": [{"filter": "datum.panel == 'b'"}], "mark": {"type": "text", "align": "right", "baseline": "middle", "fontSize": 10, "fontWeight": "bold", "color": "#111"}, "encoding": {"text": {"field": "label"}}}
]
}
],
"spacing": 4
}
